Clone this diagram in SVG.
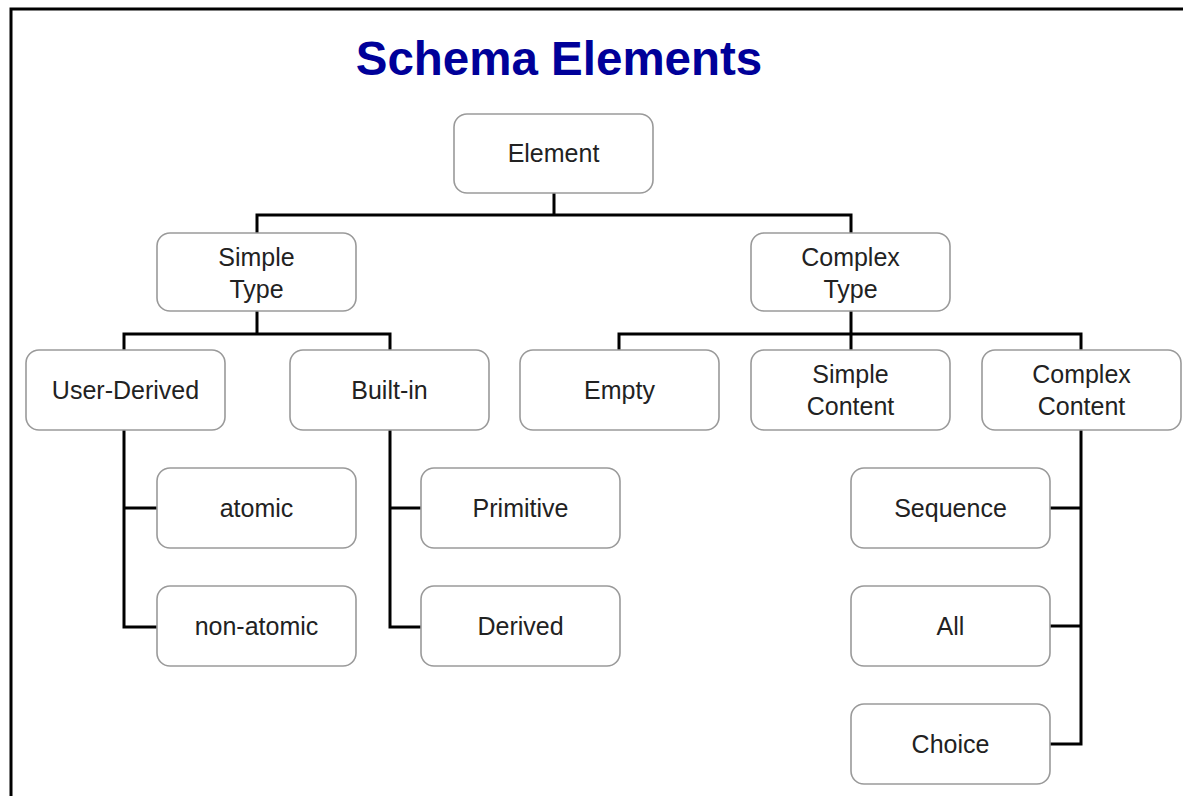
<svg xmlns="http://www.w3.org/2000/svg" width="1183" height="796" viewBox="0 0 1183 796">
<style>
.box{fill:#fff;stroke:#9a9a9a;stroke-width:1.6}
.t{font-family:"Liberation Sans",Arial,sans-serif;font-size:25px;fill:#222;text-anchor:middle}
.c{fill:none;stroke:#000;stroke-width:3}
</style>
<rect width="1183" height="796" fill="#fff"/>
<path d="M11 796 V9 H1183" fill="none" stroke="#000" stroke-width="3"/>
<text x="559" y="75" font-family="Liberation Sans,Arial,sans-serif" font-size="47.5" font-weight="bold" fill="#000099" text-anchor="middle">Schema Elements</text>
<g id="connectors">
<path class="c" d="M554 193 V215 M257 233 V215 H851 V233"/>
<path class="c" d="M257 311 V334 M124 350 V334 H390 V350"/>
<path class="c" d="M851 311 V334 M619 350 V334 H1081 V350 M851 334 V350"/>
<path class="c" d="M124 430 V627 H157 M124 508 H157"/>
<path class="c" d="M390 430 V627 H421 M390 508 H421"/>
<path class="c" d="M1081 430 V744 H1050 M1081 508 H1050 M1081 626 H1050"/>
</g>
<g id="element"><rect class="box" x="454" y="114" width="199" height="79" rx="13"/><text class="t" x="553.5" y="162">Element</text></g>
<g id="simple-type"><rect class="box" x="157" y="233" width="199" height="78" rx="13"/><text class="t" x="256.5" y="266">Simple</text><text class="t" x="256.5" y="298">Type</text></g>
<g id="complex-type"><rect class="box" x="751" y="233" width="199" height="78" rx="13"/><text class="t" x="850.5" y="266">Complex</text><text class="t" x="850.5" y="298">Type</text></g>
<g id="user-derived"><rect class="box" x="26" y="350" width="199" height="80" rx="13"/><text class="t" x="125.5" y="399">User-Derived</text></g>
<g id="built-in"><rect class="box" x="290" y="350" width="199" height="80" rx="13"/><text class="t" x="389.5" y="399">Built-in</text></g>
<g id="empty"><rect class="box" x="520" y="350" width="199" height="80" rx="13"/><text class="t" x="619.5" y="399">Empty</text></g>
<g id="simple-content"><rect class="box" x="751" y="350" width="199" height="80" rx="13"/><text class="t" x="850.5" y="383">Simple</text><text class="t" x="850.5" y="415">Content</text></g>
<g id="complex-content"><rect class="box" x="982" y="350" width="199" height="80" rx="13"/><text class="t" x="1081.5" y="383">Complex</text><text class="t" x="1081.5" y="415">Content</text></g>
<g id="atomic"><rect class="box" x="157" y="468" width="199" height="80" rx="13"/><text class="t" x="256.5" y="517">atomic</text></g>
<g id="non-atomic"><rect class="box" x="157" y="586" width="199" height="80" rx="13"/><text class="t" x="256.5" y="635">non-atomic</text></g>
<g id="primitive"><rect class="box" x="421" y="468" width="199" height="80" rx="13"/><text class="t" x="520.5" y="517">Primitive</text></g>
<g id="derived"><rect class="box" x="421" y="586" width="199" height="80" rx="13"/><text class="t" x="520.5" y="635">Derived</text></g>
<g id="sequence"><rect class="box" x="851" y="468" width="199" height="80" rx="13"/><text class="t" x="950.5" y="517">Sequence</text></g>
<g id="all"><rect class="box" x="851" y="586" width="199" height="80" rx="13"/><text class="t" x="950.5" y="635">All</text></g>
<g id="choice"><rect class="box" x="851" y="704" width="199" height="80" rx="13"/><text class="t" x="950.5" y="753">Choice</text></g>
</svg>
